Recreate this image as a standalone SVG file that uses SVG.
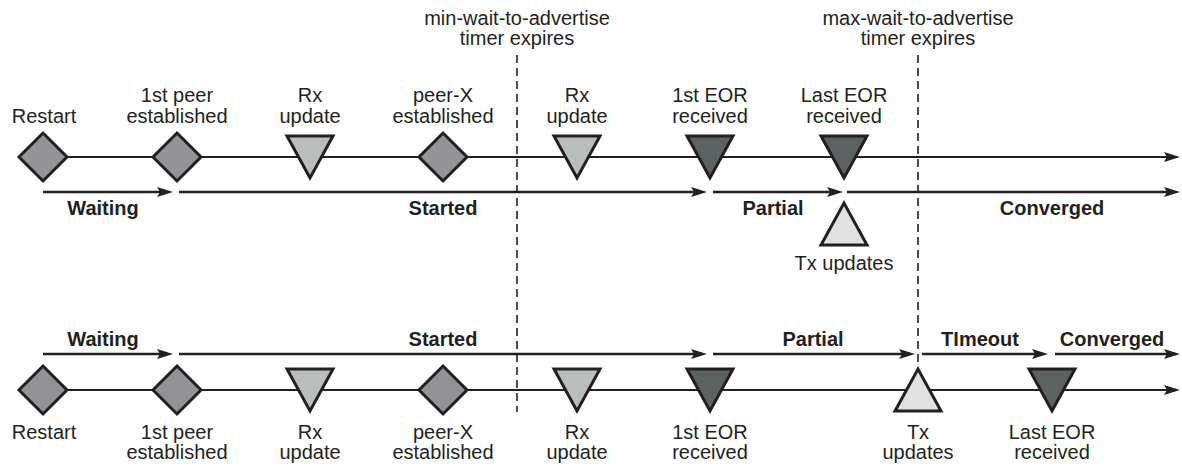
<svg xmlns="http://www.w3.org/2000/svg" width="1182" height="472" viewBox="0 0 1182 472">
<style>
text{font-family:"Liberation Sans",Arial,sans-serif;font-size:20px;fill:#231f20;text-anchor:middle}
.b{font-weight:bold}
.dia{fill:#939297;stroke:#231f20;stroke-width:3;stroke-linejoin:miter}
.rx{fill:#b9bebc;stroke:#231f20;stroke-width:3;stroke-linejoin:miter}
.eor{fill:#5b6261;stroke:#231f20;stroke-width:3;stroke-linejoin:miter}
.tx{fill:#e1e1e1;stroke:#231f20;stroke-width:3;stroke-linejoin:miter}
.tl{stroke:#231f20;stroke-width:2;fill:none}
.st{stroke:#231f20;stroke-width:2.6;fill:none}
.dash{stroke:#231f20;stroke-width:1.6;stroke-dasharray:8 5;fill:none}
</style>
<defs>
<marker id="ah" markerUnits="userSpaceOnUse" markerWidth="18" markerHeight="12" refX="8" refY="6" orient="auto">
<path d="M0,1 L16,6 L0,11 L3,6 z" fill="#231f20"/>
</marker>
<polygon id="diamond" points="0,-24 24,0 0,24 -24,0"/>
<polygon id="down" points="-23,-21 23,-21 0,21"/>
<polygon id="up" points="-23,21 23,21 0,-21"/>
</defs>

<g id="connectors">
<!-- timer lines -->
<line class="dash" x1="517" y1="55" x2="517" y2="412"/>
<line class="dash" x1="918" y1="55" x2="918" y2="366"/>
<!-- timelines -->
<line class="tl" x1="43" y1="157" x2="1172" y2="157" marker-end="url(#ah)"/>
<line class="tl" x1="43" y1="390" x2="1172" y2="390" marker-end="url(#ah)"/>
<!-- top state arrows -->
<line class="st" x1="43" y1="192" x2="165" y2="192" marker-end="url(#ah)"/>
<line class="st" x1="179" y1="192" x2="699" y2="192" marker-end="url(#ah)"/>
<line class="st" x1="713" y1="192" x2="835" y2="192" marker-end="url(#ah)"/>
<line class="st" x1="847" y1="192" x2="1172" y2="192" marker-end="url(#ah)"/>
<!-- bottom state arrows -->
<line class="st" x1="43" y1="354" x2="165" y2="354" marker-end="url(#ah)"/>
<line class="st" x1="179" y1="354" x2="699" y2="354" marker-end="url(#ah)"/>
<line class="st" x1="713" y1="354" x2="907" y2="354" marker-end="url(#ah)"/>
<line class="st" x1="922" y1="354" x2="1040" y2="354" marker-end="url(#ah)"/>
<line class="st" x1="1055" y1="354" x2="1172" y2="354" marker-end="url(#ah)"/>
</g>

<g id="timer-labels">
<text x="517" y="25">min-wait-to-advertise</text>
<text x="517" y="45">timer expires</text>
<text x="918" y="25">max-wait-to-advertise</text>
<text x="918" y="45">timer expires</text>
</g>

<g id="state-labels">
<text class="b" x="103" y="215">Waiting</text>
<text class="b" x="443" y="215">Started</text>
<text class="b" x="773" y="215">Partial</text>
<text class="b" x="1052" y="215">Converged</text>
<text class="b" x="103" y="346">Waiting</text>
<text class="b" x="443" y="346">Started</text>
<text class="b" x="813" y="346">Partial</text>
<text class="b" x="980" y="346">TImeout</text>
<text class="b" x="1112" y="346">Converged</text>
</g>

<!-- top row nodes -->
<g id="t-restart"><use href="#diamond" class="dia" x="43" y="157"/><text x="44" y="123">Restart</text></g>
<g id="t-peer1"><use href="#diamond" class="dia" x="177" y="157"/><text x="177" y="102">1st peer</text><text x="177" y="123">established</text></g>
<g id="t-rx1"><use href="#down" class="rx" x="310" y="157"/><text x="310" y="102">Rx</text><text x="310" y="123">update</text></g>
<g id="t-peerx"><use href="#diamond" class="dia" x="443" y="157"/><text x="443" y="102">peer-X</text><text x="443" y="123">established</text></g>
<g id="t-rx2"><use href="#down" class="rx" x="577" y="157"/><text x="577" y="102">Rx</text><text x="577" y="123">update</text></g>
<g id="t-eor1"><use href="#down" class="eor" x="710" y="157"/><text x="710" y="102">1st EOR</text><text x="710" y="123">received</text></g>
<g id="t-eorlast"><use href="#down" class="eor" x="844" y="157"/><text x="844" y="102">Last EOR</text><text x="844" y="123">received</text></g>
<g id="t-tx"><use href="#up" class="tx" x="844" y="224"/><text x="844" y="270">Tx updates</text></g>

<!-- bottom row nodes -->
<g id="b-restart"><use href="#diamond" class="dia" x="43" y="390"/><text x="44" y="439">Restart</text></g>
<g id="b-peer1"><use href="#diamond" class="dia" x="177" y="390"/><text x="177" y="439">1st peer</text><text x="177" y="459">established</text></g>
<g id="b-rx1"><use href="#down" class="rx" x="310" y="390"/><text x="310" y="439">Rx</text><text x="310" y="459">update</text></g>
<g id="b-peerx"><use href="#diamond" class="dia" x="443" y="390"/><text x="443" y="439">peer-X</text><text x="443" y="459">established</text></g>
<g id="b-rx2"><use href="#down" class="rx" x="577" y="390"/><text x="577" y="439">Rx</text><text x="577" y="459">update</text></g>
<g id="b-eor1"><use href="#down" class="eor" x="710" y="390"/><text x="710" y="439">1st EOR</text><text x="710" y="459">received</text></g>
<g id="b-tx"><use href="#up" class="tx" x="918" y="390"/><text x="918" y="439">Tx</text><text x="918" y="459">updates</text></g>
<g id="b-eorlast"><use href="#down" class="eor" x="1052" y="390"/><text x="1052" y="439">Last EOR</text><text x="1052" y="459">received</text></g>
</svg>
